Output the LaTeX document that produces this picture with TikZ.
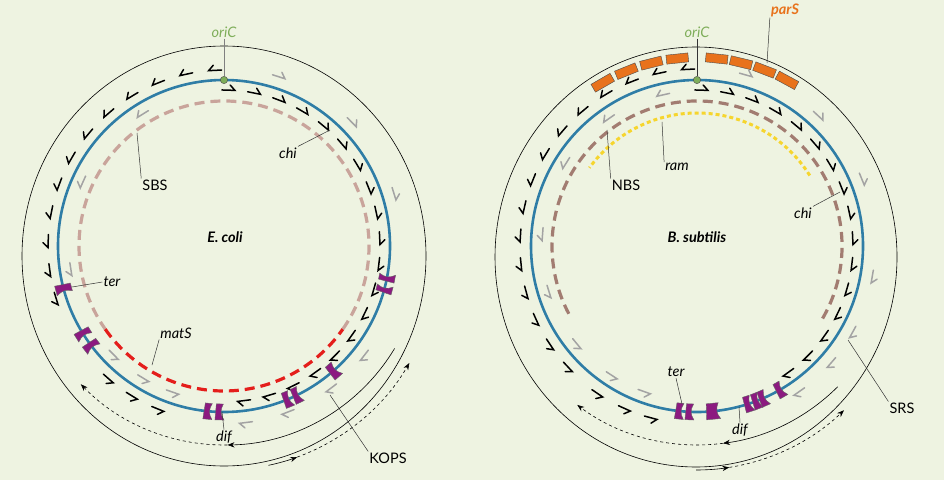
\documentclass[tikz,border=0pt]{standalone}
\usepackage{fontspec}
\setmainfont{Lato}
\usetikzlibrary{arrows.meta}
\definecolor{bgc}{HTML}{EEF3E1}
\definecolor{dnab}{HTML}{2F7DA6}
\definecolor{terp}{HTML}{8C1A80}
\definecolor{sbsc}{HTML}{C9A49B}
\definecolor{nbsc}{HTML}{A27C71}
\definecolor{mats}{HTML}{E41E1B}
\definecolor{ramc}{HTML}{F6D52E}
\definecolor{kops}{HTML}{A3A3A3}
\definecolor{orip}{HTML}{7FAE5A}
\definecolor{pars}{HTML}{E8721C}
\tikzset{
	lbl/.style={font=\fontsize{14.5}{16}\selectfont\itshape, inner sep=1pt},
	lblup/.style={font=\fontsize{14.5}{16}\selectfont, inner sep=1pt},
	lead/.style={draw=black!80, line width=0.5pt},
	chevline/.style={line width=1.5pt, line cap=round, line join=miter},
}
% chevron: centre, radius, angle, sign (1 = ccw, -1 = cw), colour
\newcommand{\chev}[5]{%
	\draw[chevline, #5, shift={(#1)}, rotate=#3] (#2-0.5,-13*#4) -- (#2,0) -- (#2+5,-5*#4);}
% ter site: centre, radius, angle, width
\newcommand{\tersite}[4]{%
	\draw[fill=terp, draw=black!60, line width=0.4pt, shift={(#1)}, rotate=#3]
		(#2-8,-#4/2) -- (#2+8,-#4/2-1) -- (#2+8,#4/2+1) .. controls (#2+2,#4/2-3) and (#2-2,#4/2-3) .. (#2-8,#4/2) -- cycle;}
% parS box: centre, angle
\newcommand{\parsbox}[2]{%
	\draw[fill=pars, draw=black!70, line width=0.4pt, shift={(#1)}, rotate=#2] (184,-11) rectangle (193,11);}
\begin{document}
\begin{tikzpicture}[x=1pt, y=1pt]
	\useasboundingbox (0,0) rectangle (944,480);
	\fill[bgc] (0,0) rectangle (944,480);
	\coordinate (EC) at (224,234);
	\coordinate (BS) at (697,234);

	% ---- E. coli ----
	\draw[line width=0.6pt] (224,224) ellipse [x radius=202, y radius=210];
	\draw[sbsc, line width=3.2pt, dash pattern=on 10pt off 6pt] ([shift={(-35:145)}]EC) arc[start angle=-35, end angle=215, radius=145];
	\draw[mats, line width=3.2pt, dash pattern=on 10pt off 6pt] ([shift={(-145:145)}]EC) arc[start angle=-145, end angle=-35, radius=145];
	\foreach \a in {95,104.5,...,200} {\chev{EC}{176}{\a}{1}{black}}
	\foreach \a in {-129,-119.5,-110} {\chev{EC}{176}{\a}{1}{black}}
	\foreach \a in {86,76.5,...,-88} {\chev{EC}{156}{\a}{-1}{black}}
	\foreach \a in {70,42,15,-40,-55,-71,-85} {\chev{EC}{178}{\a}{-1}{kops}}
	\foreach \a in {124,158,191,-133,-119,-107} {\chev{EC}{155}{\a}{1}{kops}}
	\draw[dnab, line width=2.6pt] (EC) circle (166);
	\foreach \a/\w in {195/8, 212/7, 217/7, -95.5/7, -91.5/7, -67.5/7, -64/7, -48.7/8, -11/6, -15/6} {\tersite{EC}{166}{\a}{\w}}
	\node[circle, fill=orip, draw=black!70, line width=0.4pt, inner sep=2.6pt] (oriE) at (224,400) {};
	\node[lbl, text=orip] (oriEl) at (224,448) {oriC};
	\draw[lead, draw=gray] (oriEl) -- (oriE);
	\node[lbl, font=\fontsize{14.5}{16}\selectfont\bfseries\itshape] (ecoli) at (225,243) {E. coli};
	\node[lbl] (chiE) at (288,327) {chi};
	\coordinate (chiEp) at (330,350);
	\draw[lead] (chiE.north east) -- (chiEp);
	\node[lblup] (sbs) at (155,295) {SBS};
	\coordinate (sbsp) at (137,347);
	\draw[lead] (sbs.north west) -- (sbsp);
	\node[lbl] (terE) at (112,198) {ter};
	\coordinate (terEp) at (72,193);
	\draw[lead] (terE.west) -- (terEp);
	\node[lbl] (matsl) at (176,147) {matS};
	\coordinate (matsp) at (152,115);
	\draw[lead] (matsl.south west) -- (matsp);
	\node[lbl] (difE) at (224,43) {dif};
	\coordinate (difEp) at (222,68);
	\draw[lead] (difE.north) -- (difEp);
	\node[lblup] (kopsl) at (388,22) {KOPS};
	\coordinate (kopsp) at (330,85);
	\draw[lead] (kopsl.north west) -- (kopsp);
	\draw[line width=0.6pt, -{Stealth[length=7pt]}] ([shift={(-31:199)}]EC) arc[start angle=-31, end angle=-89, radius=199];
	\draw[line width=0.6pt, dashed, -{Stealth[length=7pt]}] ([shift={(-89:199)}]EC) arc[start angle=-89, end angle=-136, radius=199];
	\draw[line width=0.6pt, -{Stealth[length=7pt]}] ([shift={(-78:214)}]224,224) arc[start angle=-78, end angle=-70, radius=214];
	\draw[line width=0.6pt, dashed, -{Stealth[length=7pt]}] ([shift={(-70:214)}]224,224) arc[start angle=-70, end angle=-30, radius=214];

	% ---- B. subtilis ----
	\draw[line width=0.6pt] (696,223) ellipse [x radius=201, y radius=210];
	\draw[nbsc, line width=3.2pt, dash pattern=on 10pt off 6pt] ([shift={(-30:145)}]BS) arc[start angle=-30, end angle=210, radius=145];
	\draw[ramc, line width=3pt, dash pattern=on 4pt off 3pt] ([shift={(32:133)}]BS) arc[start angle=32, end angle=144, radius=133];
	\foreach \a in {96,104,...,124} {\parsbox{BS}{\a}}
	\foreach \a in {84,76.5,...,60} {\parsbox{BS}{\a}}
	\foreach \a in {95,104.3,...,227} {\chev{BS}{177}{\a}{1}{black}}
	\foreach \a in {-122,-112,-103} {\chev{BS}{178}{\a}{1}{black}}
	\foreach \a in {86,76.5,...,-57} {\chev{BS}{156}{\a}{-1}{black}}
	\foreach \a in {72,45,20,-12,-31,-43,-57} {\chev{BS}{178}{\a}{-1}{kops}}
	\foreach \a in {105,127,150,178,199.5,221.5,-121,-107.5} {\chev{BS}{155}{\a}{1}{kops}}
	\draw[dnab, line width=2.6pt] (BS) circle (166);
	\foreach \a/\w in {-96/7, -92.5/7, -84.5/12, -72/7, -69/7, -66.5/7, -60/7} {\tersite{BS}{166}{\a}{\w}}
	\node[circle, fill=orip, draw=black!70, line width=0.4pt, inner sep=2.6pt] (oriB) at (697,400) {};
	\node[lbl, text=orip] (oriBl) at (697,448) {oriC};
	\draw[lead] (oriBl) -- (oriB);
	\node[lbl, text=pars, font=\fontsize{14.5}{16}\selectfont\bfseries\itshape] (parsl) at (785,470) {parS};
	\coordinate (parsp) at (767,417);
	\draw[lead] (parsl.south west) -- (parsp);
	\node[lbl, font=\fontsize{14.5}{16}\selectfont\bfseries\itshape] (bsub) at (697,243) {B. subtilis};
	\node[lblup] (nbs) at (626,295) {NBS};
	\coordinate (nbsp) at (607,350);
	\draw[lead] (nbs.north west) -- (nbsp);
	\node[lbl] (raml) at (677,313) {ram};
	\coordinate (ramp) at (662,358);
	\draw[lead] (raml.north west) -- (ramp);
	\node[lbl] (chiB) at (803,267) {chi};
	\coordinate (chiBp) at (840,288);
	\draw[lead] (chiB.north east) -- (chiBp);
	\node[lbl] (terB) at (676,108) {ter};
	\coordinate (terBp) at (682,76);
	\draw[lead] (terB.south) -- (terBp);
	\node[lbl] (difB) at (740,50) {dif};
	\coordinate (difBp) at (739,73);
	\draw[lead] (difB.north) -- (difBp);
	\node[lblup] (srs) at (902,72) {SRS};
	\coordinate (srsp) at (848,140);
	\draw[lead] (srs.north west) -- (srsp);
	\draw[line width=0.6pt, -{Stealth[length=7pt]}] ([shift={(-45:199)}]BS) arc[start angle=-45, end angle=-82.5, radius=199];
	\draw[line width=0.6pt, dashed, -{Stealth[length=7pt]}] ([shift={(-82.5:199)}]BS) arc[start angle=-82.5, end angle=-127, radius=199];
	\draw[line width=0.6pt, -{Stealth[length=7pt]}] ([shift={(-90:213)}]696,223) arc[start angle=-90, end angle=-81, radius=213];
	\draw[line width=0.6pt, dashed, -{Stealth[length=7pt]}] ([shift={(-81:213)}]696,223) arc[start angle=-81, end angle=-46, radius=213];
\end{tikzpicture}
\end{document}
